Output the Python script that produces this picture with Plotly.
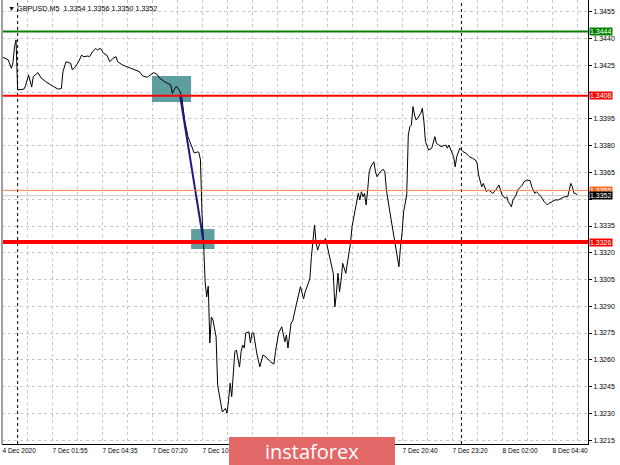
import plotly.graph_objects as go

# ---------------- data ----------------
symbol_header = "▼ GBPUSD,M5  1.3354 1.3356 1.3350 1.3352"

bars = [0, 2, 4, 6, 7, 8, 9, 10, 14, 15, 17, 19, 20, 23, 25, 28, 31, 33, 36, 38,
        39, 41, 44, 45, 47, 49, 51, 52, 55, 56, 58, 60, 61, 63, 65, 67, 69, 71, 73, 74,
        77, 80, 83, 86, 88, 90, 93, 95, 97, 99, 101, 104, 108, 109, 111, 112, 114, 115, 117, 119,
        122, 123, 125, 126, 127, 128, 129, 130, 131, 132, 133, 134, 135, 137, 138, 140, 141, 143, 144, 145,
        146, 147, 148, 149, 150, 152, 153, 154, 155, 156, 158, 159, 160, 161, 163, 165, 167, 169, 172, 174,
        175, 177, 179, 181, 182, 183, 185, 186, 188, 190, 191, 193, 194, 196, 197, 198, 199, 200, 201, 202,
        204, 206, 207, 209, 211, 212, 213, 214, 215, 216, 217, 218, 220, 221, 223, 224, 225, 226, 228, 229,
        230, 231, 232, 233, 234, 235, 236, 238, 239, 240, 242, 244, 245, 246, 248, 250, 251, 252, 253, 254,
        255, 256, 257, 259, 260, 261, 262, 263, 264, 265, 266, 268, 269, 270, 271, 273, 275, 277, 278, 280,
        281, 284, 285, 286, 288, 289, 290, 291, 293, 295, 297, 299, 301, 303, 304, 305, 307, 308, 310, 311,
        313, 314, 316, 318, 319, 320, 322, 323, 324, 326, 327, 329, 330, 333, 334, 336, 338, 339, 341, 342,
        344, 345, 347, 349, 350, 352, 354, 356, 358, 360, 362, 364, 365, 366, 367, 368]

closes = [1.34299, 1.34290, 1.34281, 1.34234, 1.34264, 1.34355, 1.34393, 1.34113, 1.34117, 1.34135,
          1.34197, 1.34129, 1.34187, 1.34210, 1.34180, 1.34159, 1.34141, 1.34131, 1.34117, 1.34122,
          1.34215, 1.34271, 1.34262, 1.34225, 1.34243, 1.34271, 1.34309, 1.34299, 1.34303, 1.34299,
          1.34327, 1.34346, 1.34337, 1.34346, 1.34318, 1.34309, 1.34271, 1.34290, 1.34299, 1.34271,
          1.34253, 1.34243, 1.34234, 1.34225, 1.34215, 1.34191, 1.34184, 1.34197, 1.34210, 1.34202,
          1.34178, 1.34159, 1.34141, 1.34094, 1.34128, 1.34131, 1.34103, 1.34073, 1.33939, 1.33851,
          1.33787, 1.33759, 1.33765, 1.33763, 1.33720, 1.33412, 1.33255, 1.33036, 1.32953, 1.33013,
          1.32694, 1.32840, 1.32823, 1.32729, 1.32458, 1.32346, 1.32307, 1.32328, 1.32301, 1.32374,
          1.32469, 1.32393, 1.32505, 1.32645, 1.32655, 1.32559, 1.32645, 1.32683, 1.32666, 1.32750,
          1.32757, 1.32694, 1.32750, 1.32750, 1.32638, 1.32561, 1.32627, 1.32615, 1.32587, 1.32576,
          1.32645, 1.32750, 1.32785, 1.32701, 1.32739, 1.32666, 1.32806, 1.32817, 1.32897, 1.32974,
          1.33010, 1.32941, 1.32981, 1.33029, 1.33053, 1.33178, 1.33253, 1.33356, 1.33253, 1.33215,
          1.33271, 1.33262, 1.33281, 1.33197, 1.33113, 1.33085, 1.32897, 1.32972, 1.33085, 1.32981,
          1.33047, 1.33141, 1.33085, 1.33141, 1.33253, 1.33346, 1.33384, 1.33440, 1.33533, 1.33496,
          1.33542, 1.33514, 1.33533, 1.33468, 1.33552, 1.33654, 1.33682, 1.33710, 1.33654, 1.33626,
          1.33654, 1.33668, 1.33654, 1.33552, 1.33440, 1.33327, 1.33290, 1.33234, 1.33159, 1.33122,
          1.33234, 1.33309, 1.33430, 1.33524, 1.33860, 1.33907, 1.33916, 1.34019, 1.33972, 1.33944,
          1.33954, 1.33982, 1.34010, 1.33935, 1.33823, 1.33776, 1.33786, 1.33851, 1.33814, 1.33804,
          1.33795, 1.33804, 1.33786, 1.33804, 1.33767, 1.33739, 1.33682, 1.33739, 1.33786, 1.33767,
          1.33758, 1.33739, 1.33730, 1.33720, 1.33702, 1.33636, 1.33570, 1.33589, 1.33542, 1.33552,
          1.33542, 1.33533, 1.33552, 1.33580, 1.33552, 1.33524, 1.33505, 1.33514, 1.33486, 1.33458,
          1.33496, 1.33524, 1.33552, 1.33580, 1.33598, 1.33608, 1.33604, 1.33570, 1.33533, 1.33542,
          1.33524, 1.33514, 1.33486, 1.33468, 1.33477, 1.33486, 1.33496, 1.33496, 1.33505, 1.33514,
          1.33514, 1.33589, 1.33570, 1.33533, 1.33533, 1.33524]

# x-axis ticks (bar index) and labels; labels hidden under the banner are left blank
grid_bars = list(range(0, 369, 16))
label_bars = [0, 32, 64, 96, 128, 256, 288, 320, 352]
label_texts = ["4 Dec 2020", "7 Dec 01:55", "7 Dec 04:35", "7 Dec 07:20", "7 Dec 10:00",
               "7 Dec 20:40", "7 Dec 23:20", "8 Dec 02:00", "8 Dec 04:40"]
day_separator_bars = [10, 294]

# y-axis ticks; the ones covered by the price tags are left blank
y_tick_values = [1.3215, 1.3230, 1.3245, 1.3260, 1.3275, 1.3290, 1.3305, 1.3320, 1.3335,
                 1.3350, 1.3365, 1.3380, 1.3395, 1.3410, 1.3425, 1.3440, 1.3455]
y_tick_hidden = [1.3350, 1.3410]

# levels
level_green = 1.3444
level_red_upper = 1.3408
level_red_lower = 1.3326
level_orange = 1.3355
bid_price = 1.3352

# signal zones (bar start, bar end, price low, price high)
zone_bar_start = [96, 121]
zone_bar_end = [121, 136]
zone_price_low = [1.34045, 1.33221]
zone_price_high = [1.34191, 1.33333]

# arrow between the levels
arrow_bars = [114, 129]
arrow_prices = [1.3408, 1.3326]

y_min, y_max = 1.32128, 1.34617

# ---------------- figure ----------------
fig = go.Figure()

fig.add_trace(go.Scatter(x=bars, y=closes, mode="lines",
                         line=dict(color="#000000", width=1), hoverinfo="skip"))
fig.add_trace(go.Scatter(x=arrow_bars, y=arrow_prices, mode="lines",
                         line=dict(color="#1a1a80", width=2), hoverinfo="skip"))

shapes = []
for b0, b1, p0, p1 in zip(zone_bar_start, zone_bar_end, zone_price_low, zone_price_high):
    shapes.append(dict(type="rect", xref="x", yref="y", x0=b0, x1=b1, y0=p0, y1=p1,
                       fillcolor="#5f9ea0", line=dict(width=0), layer="between"))
for b in day_separator_bars:
    shapes.append(dict(type="line", xref="x", yref="paper", x0=b, x1=b, y0=0, y1=1,
                       line=dict(color="#000000", width=1, dash="dot"), layer="between"))
shapes.append(dict(type="line", xref="paper", yref="y", x0=0, x1=1, y0=bid_price, y1=bid_price,
                   line=dict(color="#c8c8c8", width=1), layer="between"))
for p, c, w in [(level_green, "#008000", 2), (level_red_upper, "#ff0000", 2),
                (level_red_lower, "#ff0000", 4), (level_orange, "#ff8040", 1)]:
    shapes.append(dict(type="line", xref="paper", yref="y", x0=0, x1=1, y0=p, y1=p,
                       line=dict(color=c, width=w), layer="above"))
# left window border
shapes.append(dict(type="line", xref="paper", yref="paper", x0=0, x1=0, y0=0, y1=1,
                   line=dict(color="#a0a0a0", width=2), layer="above"))
# instaforex banner
shapes.append(dict(type="rect", xref="paper", yref="paper", x0=0.3874, x1=0.6706,
                   y0=-0.048, y1=0.0158, fillcolor="#e26868", line=dict(width=0), layer="above"))

annotations = []
for p, bg, fg in [(level_green, "#008000", "#ffffff"), (level_red_upper, "#ff0000", "#ffffff"),
                  (level_red_lower, "#ff0000", "#ffffff"), (level_orange, "#ff6a20", "#ffffff"),
                  (bid_price, "#000000", "#ffffff")]:
    annotations.append(dict(xref="paper", yref="y", x=1, y=p, xanchor="left", yanchor="middle",
                            xshift=1, text=f"{p:.4f}", showarrow=False, bgcolor=bg,
                            font=dict(color=fg, size=7, family="Liberation Sans, Arial"),
                            borderpad=0))
annotations.append(dict(xref="paper", yref="paper", x=0, y=1, xanchor="left", yanchor="top",
                        xshift=4, yshift=-2, text=symbol_header, showarrow=False,
                        font=dict(color="#000000", size=7.2, family="Liberation Sans, Arial")))
annotations.append(dict(xref="paper", yref="paper", x=0.529, y=-0.016, xanchor="center",
                        yanchor="middle", text="instaforex", showarrow=False,
                        font=dict(color="#ffffff", size=20, family="Open Sans")))

x_ticktext = [label_texts[label_bars.index(b)] if b in label_bars else "" for b in grid_bars]
y_ticktext = ["" if v in y_tick_hidden else f"{v:.4f}" for v in y_tick_values]

fig.update_layout(
    width=620, height=465,
    margin=dict(l=2, r=32, t=0, b=21),
    paper_bgcolor="#ffffff", plot_bgcolor="#ffffff",
    showlegend=False,
    shapes=shapes, annotations=annotations,
    xaxis=dict(range=[0, 375], tickmode="array", tickvals=grid_bars, ticktext=x_ticktext,
               showgrid=True, gridcolor="#c8c8c8", griddash="dot", gridwidth=1,
               showline=True, linecolor="#000000", linewidth=1, zeroline=False,
               ticks="", ticklabelposition="outside right",
               tickfont=dict(size=6.5, color="#000000", family="Liberation Sans, Arial")),
    yaxis=dict(range=[y_min, y_max], side="right", tickmode="array",
               tickvals=y_tick_values, ticktext=y_ticktext,
               showgrid=True, gridcolor="#c8c8c8", griddash="dot",
               gridwidth=1, showline=True, linecolor="#000000", linewidth=1, zeroline=False,
               ticks="outside", ticklen=3, tickcolor="#000000",
               tickfont=dict(size=7, color="#000000", family="Liberation Sans, Arial")),
)

fig.write_html("out.html", config={"displayModeBar": False},
               post_script="document.body.style.margin='0';document.body.style.overflow='hidden';")
